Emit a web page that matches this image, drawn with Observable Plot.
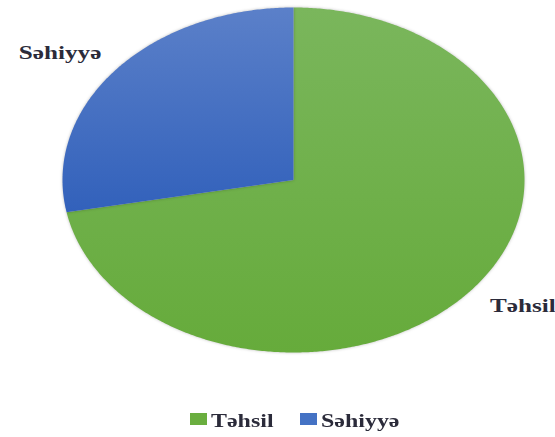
<!DOCTYPE html>
<html><head><meta charset="utf-8">
<script src="https://cdn.jsdelivr.net/npm/d3@7"></script>
<script src="https://cdn.jsdelivr.net/npm/@observablehq/plot@0.6"></script>
<style>
body{margin:0;background:#fff;}
#chart{width:555px;position:relative;}
#chart svg{display:block;}
.legend{position:relative;height:37px;width:555px;font-family:"Liberation Serif",serif;font-weight:bold;font-size:18px;color:#2b2b3a;}
.legend .sw{position:absolute;top:13px;width:17px;height:12px;}
.legend .lb{position:absolute;top:12px;line-height:18px;white-space:nowrap;transform:scaleX(1.33);transform-origin:left center;}
</style></head><body><div id="chart"></div>
<script>
const categories = ["Təhsil", "Səhiyyə"];
const values = [72, 28];
const colors = ["#6aae3f", "#4472c4"];
const gradTop = ["#7ab65c", "#5b80c9"];
const gradBottom = ["#66ab3b", "#3261bb"];

const arcs = d3.pie().sort(null).value(d => d.value)(categories.map((c, i) => ({name: c, value: values[i], i})));

function slicePoints(a) {
  const pts = [{x: 0, y: 0}];
  const n = Math.max(2, Math.ceil((a.endAngle - a.startAngle) / (Math.PI / 360)));
  for (let k = 0; k <= n; k++) {
    const t = a.startAngle + (a.endAngle - a.startAngle) * k / n;
    pts.push({x: Math.sin(t), y: Math.cos(t)});
  }
  pts.push({x: 0, y: 0});
  return pts;
}

const labels = arcs.map(a => {
  const m = (a.startAngle + a.endAngle) / 2;
  return {name: a.data.name, x: Math.sin(m) * 1.3, y: Math.cos(m) * 1.15};
});

const plot = Plot.plot({
  width: 555,
  height: 400,
  marginLeft: 62,
  marginRight: 31,
  marginTop: 7,
  marginBottom: 48,
  x: {domain: [-1, 1], axis: null},
  y: {domain: [-1, 1], axis: null},
  marks: [
    ...arcs.map((a, i) => Plot.line(slicePoints(a), {x: "x", y: "y", fill: `url(#grad${i})`, stroke: "none", curve: "linear"})),
    Plot.text(labels, {x: "x", y: "y", text: "name", dx: -2, fontFamily: "Liberation Serif", fontWeight: "bold", fontSize: 18, fill: "#2b2b3a"})
  ]
});

const svg = d3.select(plot);
const defs = svg.insert("defs", ":first-child");
arcs.forEach((a, i) => {
  const g = defs.append("linearGradient").attr("id", `grad${i}`).attr("x1", 0).attr("y1", 0).attr("x2", 0).attr("y2", 1);
  g.append("stop").attr("offset", "0%").attr("stop-color", gradTop[i]);
  g.append("stop").attr("offset", "100%").attr("stop-color", gradBottom[i]);
});
svg.selectAll("path").style("filter", "drop-shadow(0 0 1.5px rgba(0,0,0,0.25))");
svg.selectAll("text").each(function() {
  const t = this.getAttribute("transform") || "";
  this.setAttribute("transform", t + " scale(1.4,1)");
});

const chart = document.getElementById("chart");
chart.appendChild(plot);

const legend = document.createElement("div");
legend.className = "legend";
const legendLeft = [190, 300];
categories.forEach((c, i) => {
  const sw = document.createElement("div");
  sw.className = "sw";
  sw.style.left = legendLeft[i] + "px";
  sw.style.background = colors[i];
  legend.appendChild(sw);
  const lb = document.createElement("span");
  lb.className = "lb";
  lb.style.left = (legendLeft[i] + 21) + "px";
  lb.textContent = c;
  legend.appendChild(lb);
});
chart.appendChild(legend);
</script></body></html>
